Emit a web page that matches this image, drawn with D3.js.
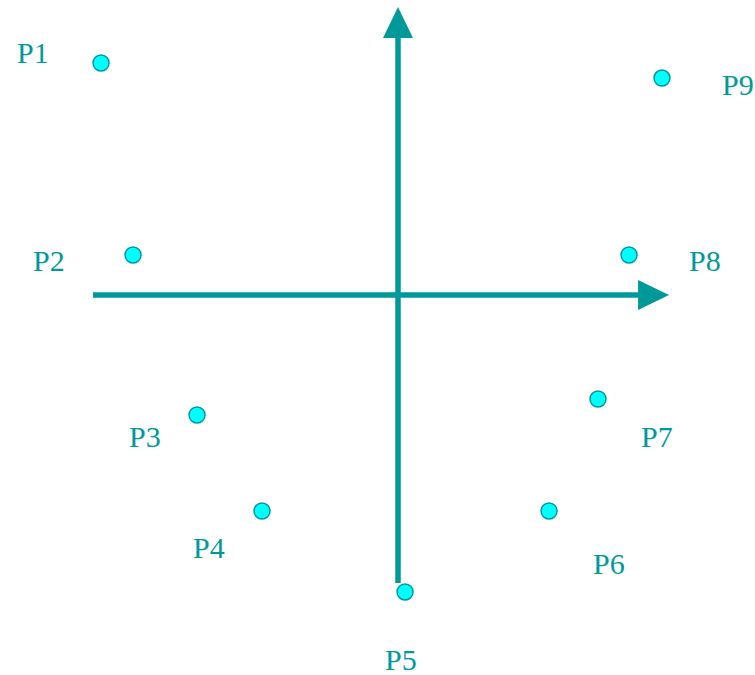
<!DOCTYPE html>
<html>
<head>
<meta charset="utf-8">
<script src="https://cdn.jsdelivr.net/npm/d3@7"></script>
<style>
  html, body { margin: 0; padding: 0; background: #fff; }
  svg { display: block; }
</style>
</head>
<body>
<div id="chart"></div>
<script>
// point names and coordinates (axis units, origin at the crossing)
var names   = ["P1", "P2", "P3", "P4", "P5", "P6", "P7", "P8", "P9"];
var xValues = [-9.28, -8.28, -6.28, -4.25, 0.22, 4.72, 6.25, 7.22, 8.25];
var yValues = [7.25, 1.25, -3.75, -6.75, -9.28, -6.75, -3.25, 1.25, 6.78];

// axis extents
var xAxisRange = [-9.53, 8.47];
var yAxisRange = [-9.0, 9.0];

var width = 755, height = 675;
var teal = "#009999";

// label offsets from each point, in pixels
var labelOffsets = [[-84, 0], [-100, 16], [-68, 32], [-69, 47], [-20, 78],
                    [44, 63], [43, 48], [60, 16], [60, 17]];

var x = d3.scaleLinear().domain([-10, 10]).range([78, 718]);
var y = d3.scaleLinear().domain([-10, 10]).range([615, -25]);

var svg = d3.select("#chart").append("svg")
	.attr("width", width)
	.attr("height", height);

var points = names.map(function(d, i) {
	return { name: d, x: xValues[i], y: yValues[i], off: labelOffsets[i] };
});

// axes with arrow heads
var headLen = 31, headHalf = 15;
var x0 = x(0), y0 = y(0);

svg.append("line")
	.attr("x1", x(xAxisRange[0])).attr("y1", y0)
	.attr("x2", x(xAxisRange[1]) - headLen + 2).attr("y2", y0)
	.attr("stroke", teal).attr("stroke-width", 5.5);

svg.append("path")
	.attr("d", "M" + x(xAxisRange[1]) + "," + y0 +
		"L" + (x(xAxisRange[1]) - headLen) + "," + (y0 - headHalf) +
		"L" + (x(xAxisRange[1]) - headLen) + "," + (y0 + headHalf) + "Z")
	.attr("fill", teal);

svg.append("line")
	.attr("x1", x0).attr("y1", y(yAxisRange[0]))
	.attr("x2", x0).attr("y2", y(yAxisRange[1]) + headLen - 2)
	.attr("stroke", teal).attr("stroke-width", 5.5);

svg.append("path")
	.attr("d", "M" + x0 + "," + y(yAxisRange[1]) +
		"L" + (x0 - headHalf) + "," + (y(yAxisRange[1]) + headLen) +
		"L" + (x0 + headHalf) + "," + (y(yAxisRange[1]) + headLen) + "Z")
	.attr("fill", teal);

// points
svg.selectAll("circle.pt")
	.data(points)
	.enter()
	.append("circle")
	.attr("class", "pt")
	.attr("cx", function(d) { return x(d.x); })
	.attr("cy", function(d) { return y(d.y); })
	.attr("r", 8)
	.attr("fill", "#00ffff")
	.attr("stroke", teal)
	.attr("stroke-width", 1.5);

// labels
svg.selectAll("text.lbl")
	.data(points)
	.enter()
	.append("text")
	.attr("class", "lbl")
	.attr("x", function(d) { return x(d.x) + d.off[0]; })
	.attr("y", function(d) { return y(d.y) + d.off[1]; })
	.attr("fill", teal)
	.style("font-family", "'Liberation Serif', 'Times New Roman', serif")
	.style("font-size", "30px")
	.text(function(d) { return d.name; });
</script>
</body>
</html>
